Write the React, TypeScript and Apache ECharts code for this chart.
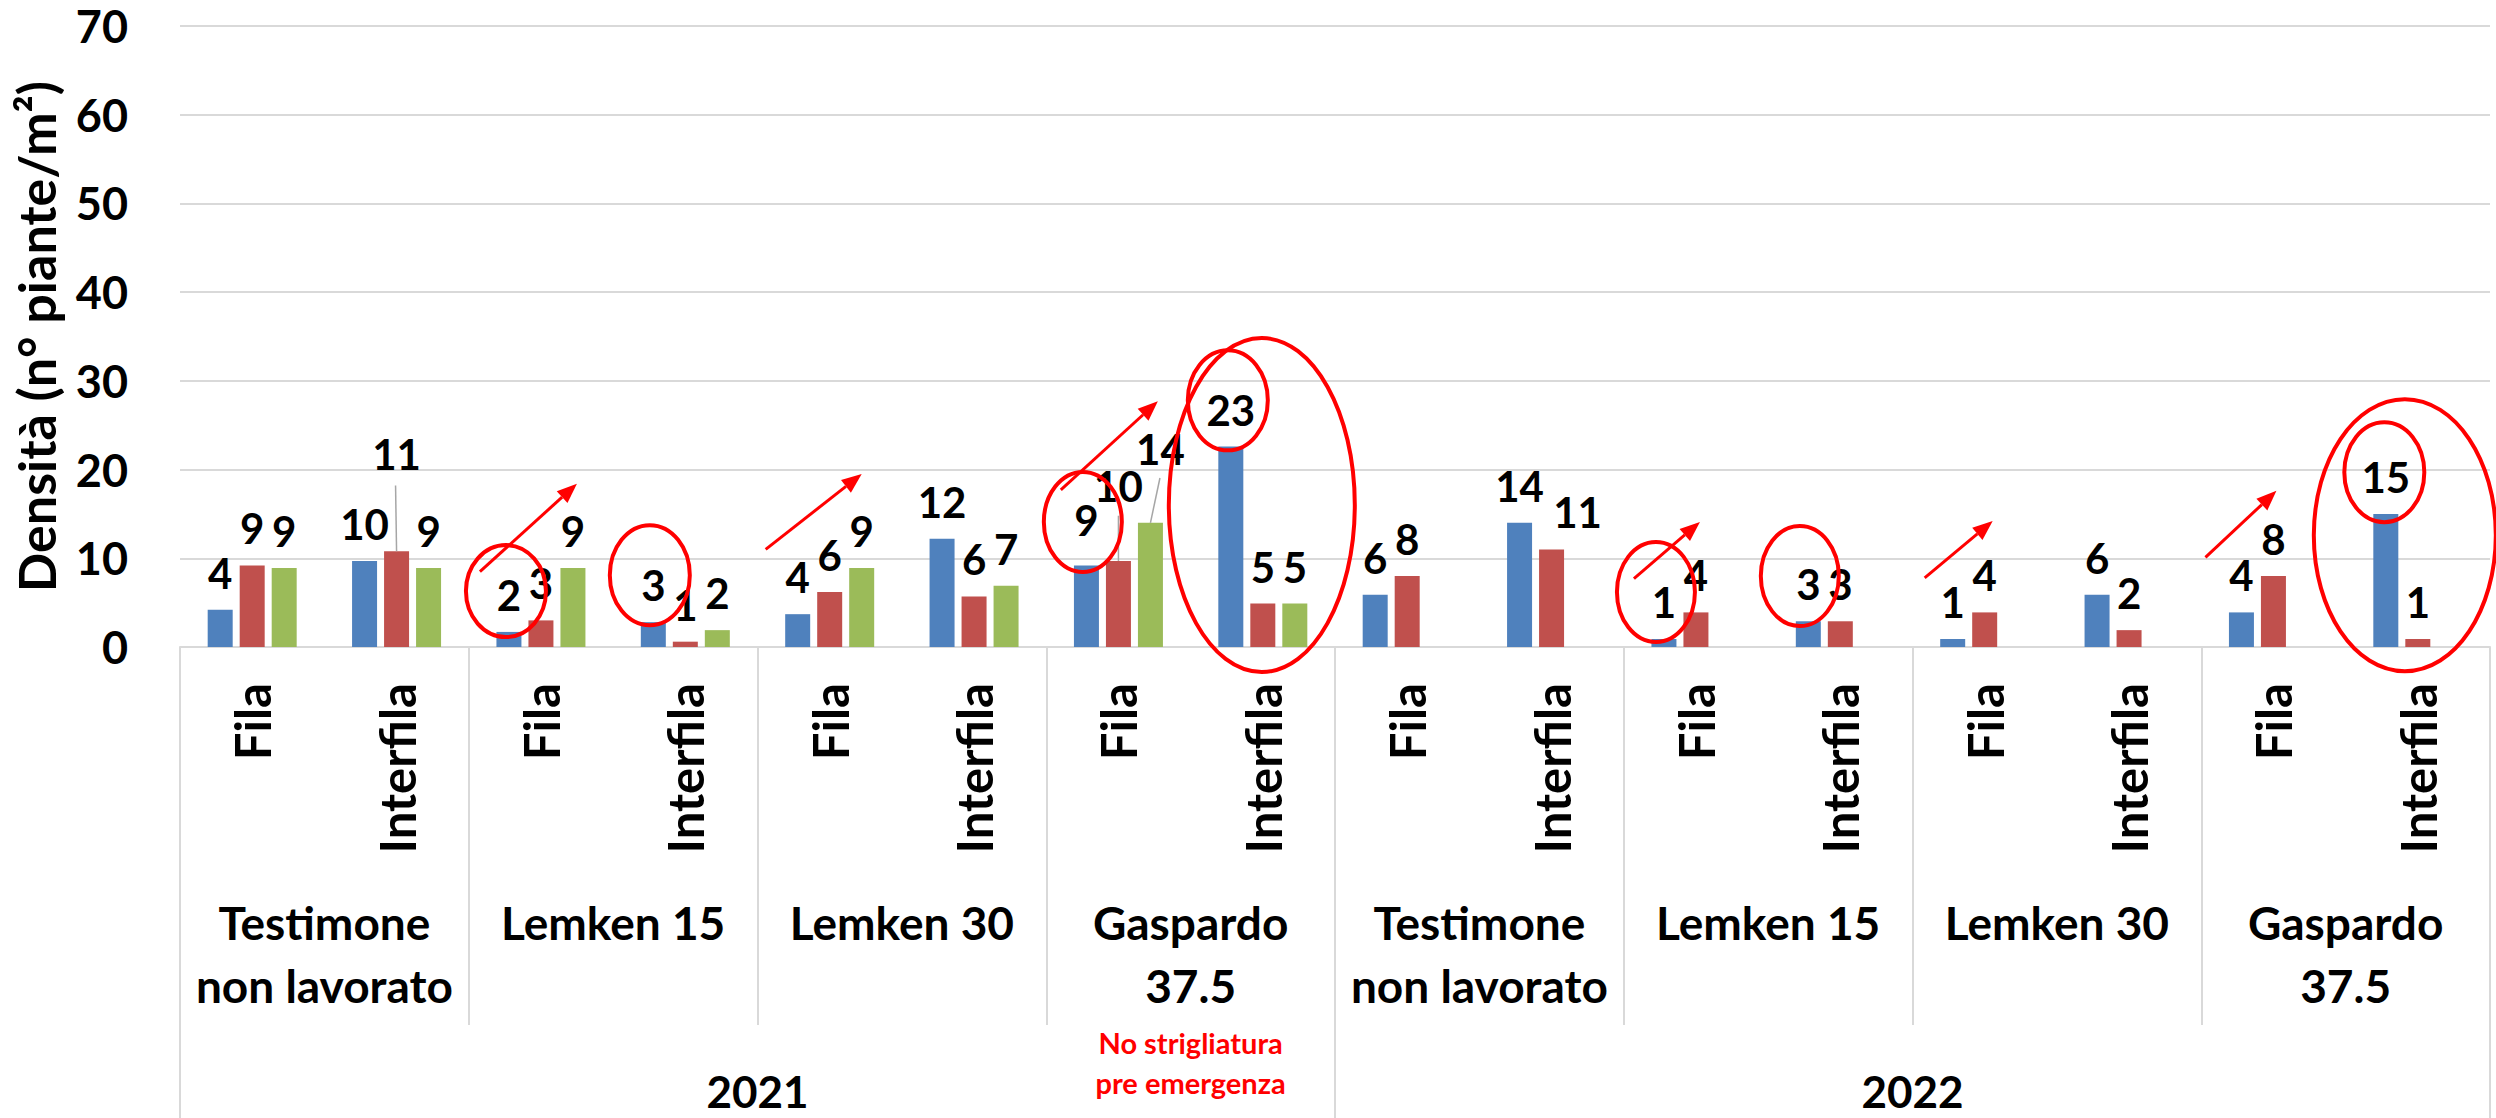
import React, { useEffect, useRef } from 'react';
import * as echarts from 'echarts';

// ---------- data ----------
const categories = [
  'Fila', 'Interfila', 'Fila', 'Interfila', 'Fila', 'Interfila', 'Fila', 'Interfila',
  'Fila', 'Interfila', 'Fila', 'Interfila', 'Fila', 'Interfila', 'Fila', 'Interfila',
];
const groupLabels = [
  'Testimone\nnon lavorato', 'Lemken 15', 'Lemken 30', 'Gaspardo\n37.5',
  'Testimone\nnon lavorato', 'Lemken 15', 'Lemken 30', 'Gaspardo\n37.5',
];
const yearLabels = ['2021', '2022'];
const seriesNames = ['Serie 1', 'Serie 2', 'Serie 3'];
const blueValues = [4.2, 9.7, 1.7, 2.8, 3.7, 12.2, 9.2, 22.6, 5.9, 14.0, 0.9, 2.9, 0.9, 5.9, 3.9, 15.0];
const redValues = [9.2, 10.8, 3.0, 0.6, 6.2, 5.7, 9.7, 4.9, 8.0, 11.0, 3.9, 2.9, 3.9, 1.9, 8.0, 0.9];
const greenValues: (number | null)[] = [8.9, 8.9, 8.9, 1.9, 8.9, 6.9, 14.0, 4.9, null, null, null, null, null, null, null, null];
const yMin = 0;
const yMax = 70;
const yInterval = 10;
const yTitle = 'Densità (n° piante/m²)';
const noteText = 'No strigliatura\npre emergenza';

// ---------- styling ----------
const COLORS = ['#4f81bd', '#c0504d', '#9bbb59'];
const FONT = 'Lato, "Open Sans", sans-serif';
const BAR_W = 25;
const BAR_GAP = 7;
const GRID_COLOR = '#d9d9d9';
const ANN_RED = '#ff0000';

// label shifts: [series, category, dx, dy]
const labelShifts = [
  [1, 1, 0, -60],
  [0, 6, 0, -8],
  [1, 6, 0, -38],
  [2, 6, 10, -37],
  [1, 9, 26, 0],
];
// leader lines: [category, series, dx of top end, y value of top end]
const leaderLines = [
  [1, 1, -1, 18.2],
  [6, 1, 0, 14.8],
  [6, 2, 9.5, 19.05],
];
// ellipses: [category, dx from category centre, y value of centre, rx px, ry px]
const ellipseMarks = [
  [2, -35, 6.3, 40, 46],
  [3, -35.5, 8.1, 40, 50],
  [6, -35.6, 14.1, 39, 50],
  [7, -35, 27.8, 40, 50],
  [7, -1, 16.0, 93, 167],
  [10, -40, 6.2, 39, 50],
  [11, -40.5, 8.0, 39, 50],
  [15, -33.5, 19.7, 40, 50],
  [15, -13, 12.6, 91, 136],
];
// arrows: [category, dx start, y start, dx tip, y tip]
const arrowMarks = [
  [2, -61, 8.5, 36, 18.4],
  [4, -64, 11.0, 32, 19.5],
  [6, -57.6, 17.7, 39.4, 27.7],
  [10, -62, 7.7, 4, 14.1],
  [12, -60, 7.8, 8, 14.2],
  [14, -68, 10.1, 3, 17.6],
];

function buildSeriesData(values: (number | null)[], sIdx: number) {
  return values.map((v, i) => {
    const sh = labelShifts.find((s) => s[0] === sIdx && s[1] === i);
    if (sh && v != null) return { value: v, label: { offset: [sh[2], sh[3]] } };
    return v;
  });
}

const labelStyle = {
  show: true,
  position: 'top',
  distance: 16,
  fontFamily: FONT,
  fontWeight: 'bold',
  fontSize: 42,
  color: '#000',
  formatter: (p: any) => String(Math.round(p.value)),
};

export default function App() {
  const ref = useRef<HTMLDivElement>(null);

  useEffect(() => {
    document.body.style.margin = '0';
    const chart = echarts.init(ref.current!, null, { renderer: 'svg' });
    const allValues = [blueValues, redValues, greenValues];
    const option: any = {
      animation: false,
      backgroundColor: '#ffffff',
      grid: { left: 180, right: 6, top: 26, bottom: 471, containLabel: false, outerBoundsMode: 'none' },
      xAxis: [
        {
          type: 'category',
          data: categories,
          position: 'bottom',
          axisLine: { show: true, lineStyle: { color: GRID_COLOR, width: 2 } },
          axisTick: {
            show: true,
            length: 378,
            interval: (i: number) => i % 2 === 0,
            lineStyle: { color: GRID_COLOR, width: 2 },
          },
          axisLabel: {
            interval: 0,
            rotate: 90,
            margin: 36,
            fontFamily: FONT,
            fontWeight: 'bold',
            fontSize: 49,
            color: '#000',
          },
        },
        {
          type: 'category',
          data: groupLabels,
          position: 'bottom',
          axisLine: { show: false },
          axisTick: { show: false },
          axisLabel: {
            interval: 0,
            margin: 244,
            fontFamily: FONT,
            fontWeight: 'bold',
            fontSize: 46,
            lineHeight: 63,
            color: '#000',
          },
        },
        {
          type: 'category',
          data: yearLabels,
          position: 'bottom',
          axisLine: { show: false },
          axisTick: { show: true, length: 471, interval: 0, lineStyle: { color: GRID_COLOR, width: 2 } },
          axisLabel: {
            interval: 0,
            margin: 425,
            fontFamily: FONT,
            fontWeight: 'bold',
            fontSize: 44,
            lineHeight: 38,
            color: '#000',
          },
        },
      ],
      yAxis: {
        type: 'value',
        min: yMin,
        max: yMax,
        interval: yInterval,
        axisLine: { show: false },
        axisTick: { show: false },
        splitLine: { lineStyle: { color: GRID_COLOR, width: 2 } },
        axisLabel: { margin: 52, fontFamily: FONT, fontWeight: 'bold', fontSize: 45, color: '#000' },
        name: yTitle,
        nameLocation: 'middle',
        nameRotate: 90,
        nameGap: 118,
        nameTextStyle: { fontFamily: FONT, fontWeight: 'bold', fontSize: 52, color: '#000' },
      },
      series: allValues.map((vals, s) => ({
        type: 'bar',
        name: seriesNames[s],
        xAxisIndex: 0,
        yAxisIndex: 0,
        data: buildSeriesData(vals, s),
        barWidth: BAR_W,
        barGap: `${(BAR_GAP / BAR_W) * 100}%`,
        itemStyle: { color: COLORS[s] },
        label: labelStyle,
      })),
    };
    chart.setOption(option);

    const px = (cat: number, dx: number, v: number) => {
      const p = chart.convertToPixel({ seriesIndex: 0 }, [cat, v]) as number[];
      return [p[0] + dx, p[1]];
    };
    const slot = BAR_W + BAR_GAP;
    const graphics: any[] = [];

    leaderLines.forEach(([cat, s, dxTop, vTop]) => {
      const barV = allValues[s][cat] as number;
      const top = px(cat, (s - 1) * slot + dxTop, vTop);
      const bottom = px(cat, (s - 1) * slot, barV);
      graphics.push({
        type: 'line',
        z: 50,
        shape: { x1: top[0], y1: top[1], x2: bottom[0], y2: bottom[1] },
        style: { stroke: '#a6a6a6', lineWidth: 1.5 },
      });
    });

    ellipseMarks.forEach(([cat, dx, v, rx, ry]) => {
      const c = px(cat, dx, v);
      graphics.push({
        type: 'ellipse',
        z: 100,
        shape: { cx: c[0], cy: c[1], rx, ry },
        style: { fill: 'none', stroke: ANN_RED, lineWidth: 4 },
      });
    });

    arrowMarks.forEach(([cat, dx0, v0, dx1, v1]) => {
      const a = px(cat, dx0, v0);
      const b = px(cat, dx1, v1);
      const len = Math.hypot(b[0] - a[0], b[1] - a[1]);
      const ux = (b[0] - a[0]) / len;
      const uy = (b[1] - a[1]) / len;
      const L = 20;
      const W = 8;
      const bx = b[0] - ux * L;
      const by = b[1] - uy * L;
      graphics.push({
        type: 'line',
        z: 100,
        shape: { x1: a[0], y1: a[1], x2: bx, y2: by },
        style: { stroke: ANN_RED, lineWidth: 3 },
      });
      graphics.push({
        type: 'polygon',
        z: 100,
        shape: { points: [[b[0], b[1]], [bx - uy * W, by + ux * W], [bx + uy * W, by - ux * W]] },
        style: { fill: ANN_RED },
      });
    });

    const n6 = px(6, 0, 0);
    const n7 = px(7, 0, 0);
    graphics.push({
      type: 'text',
      z: 100,
      x: (n6[0] + n7[0]) / 2,
      y: 1062,
      style: {
        text: noteText,
        fill: ANN_RED,
        font: `bold 29px ${FONT}`,
        lineHeight: 40,
        align: 'center',
        verticalAlign: 'middle',
      },
    });

    chart.setOption({ graphic: graphics });
    return () => chart.dispose();
  }, []);

  return <div ref={ref} style={{ width: 2496, height: 1118 }} />;
}
